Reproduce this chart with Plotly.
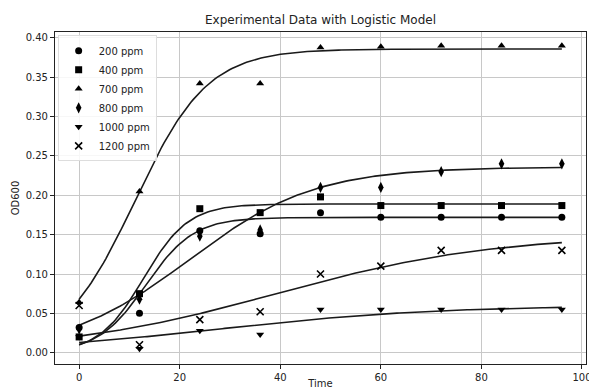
import numpy as np
import plotly.graph_objects as go

time = [0, 12, 24, 36, 48, 60, 72, 84, 96]
labels = ["200 ppm", "400 ppm", "700 ppm", "800 ppm", "1000 ppm", "1200 ppm"]

od_200 = [0.032, 0.050, 0.155, 0.151, 0.178, 0.172, 0.172, 0.172, 0.172]
od_400 = [0.020, 0.075, 0.183, 0.178, 0.198, 0.187, 0.187, 0.187, 0.187]
od_700 = [0.064, 0.205, 0.342, 0.342, 0.388, 0.389, 0.390, 0.390, 0.390]
od_800 = [0.030, 0.068, 0.148, 0.156, 0.210, 0.210, 0.230, 0.240, 0.240]
od_1000 = [0.020, 0.005, 0.028, 0.023, 0.055, 0.055, 0.055, 0.055, 0.055]
od_1200 = [0.060, 0.010, 0.042, 0.052, 0.100, 0.110, 0.130, 0.130, 0.130]

# fitted logistic parameters per concentration: carrying capacity, initial value, rate
fit_K = [0.172, 0.189, 0.386, 0.236, 0.060, 0.150]
fit_N0 = [0.010, 0.010, 0.068, 0.035, 0.013, 0.021]
fit_r = [0.210, 0.225, 0.139, 0.080, 0.0463, 0.0463]

symbols = ["circle", "square", "triangle-up", "diamond-tall", "triangle-down", "x-thin"]
series = [od_200, od_400, od_700, od_800, od_1000, od_1200]

fig = go.Figure()
t_fit = np.linspace(min(time), max(time), 200)
for K, N0, r in zip(fit_K, fit_N0, fit_r):
    y = K / (1 + ((K - N0) / N0) * np.exp(-r * t_fit))
    fig.add_trace(go.Scatter(x=t_fit, y=y, mode="lines", showlegend=False,
                             line=dict(color="#1a1a1a", width=1.6), hoverinfo="skip"))

for lab, vals, sym in zip(labels, series, symbols):
    if sym == "x-thin":
        mk = dict(symbol=sym, size=7, color="black", line=dict(color="black", width=1.6))
    elif sym == "diamond-tall":
        mk = dict(symbol=sym, size=8, color="black", line=dict(width=0))
    else:
        mk = dict(symbol=sym, size=7, color="black", line=dict(width=0))
    fig.add_trace(go.Scatter(x=time, y=vals, mode="markers", name=lab, marker=mk))

axis_common = dict(showline=True, linecolor="#222", linewidth=1.2, mirror=True,
                   showgrid=True, gridcolor="#c8c8c8", gridwidth=1, zeroline=False,
                   ticks="outside", ticklen=4, tickcolor="#222", automargin=False,
                   ticklabeloverflow="allow",
                   tickfont=dict(size=10, color="#222"))

fig.update_layout(
    width=589, height=389,
    margin=dict(l=55, r=3, t=32, b=25),
    paper_bgcolor="white", plot_bgcolor="white",
    font=dict(family="DejaVu Sans", color="#222"),
    title=dict(text="Experimental Data with Logistic Model", x=0.5, xanchor="center",
               xref="paper", y=0.948, yanchor="middle", font=dict(size=12, color="#222")),
    xaxis=dict(range=[-4.8, 100.8], tickvals=[0, 20, 40, 60, 80, 100],
               title=dict(text="Time", font=dict(size=10), standoff=0), **axis_common),
    yaxis=dict(range=[-0.0144, 0.4076], tickvals=[0, 0.05, 0.1, 0.15, 0.2, 0.25, 0.3, 0.35, 0.4],
               tickformat=".2f",
               title=dict(text="OD600", font=dict(size=10), standoff=4), **axis_common),
    legend=dict(x=0.005, y=0.99, xanchor="left", yanchor="top",
                bgcolor="rgba(255,255,255,0.85)", bordercolor="#ddd", borderwidth=1,
                font=dict(size=10, color="#222"), itemwidth=30, tracegroupgap=0),
)

fig.write_html("out.html", config={"displayModeBar": False},
               post_script="document.body.style.margin='0';document.body.style.padding='0';"
                           "document.body.style.overflow='hidden';")
